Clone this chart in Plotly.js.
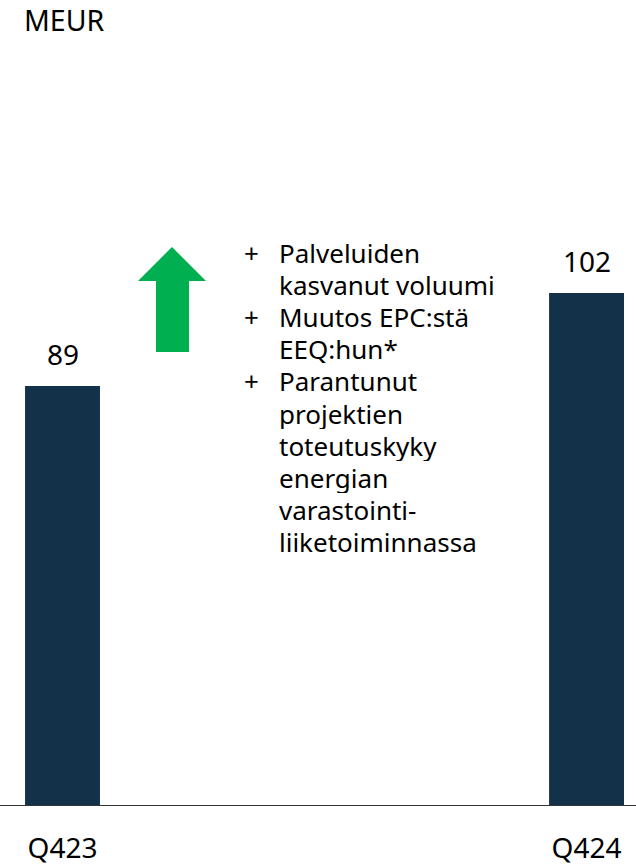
<!DOCTYPE html>
<html>
<head>
<meta charset="utf-8">
<script src="https://cdn.plot.ly/plotly-3.0.1.min.js"></script>
<style>
html,body{margin:0;padding:0;background:#fff;}
#chart{width:636px;height:865px;}
</style>
</head>
<body>
<div id="chart"></div>
<script>
// ---- data ----
const categories = ["Q423", "Q424"];
const values = [89, 102];
const unitLabel = "MEUR";
const bulletItems = [
  ["Palveluiden", "kasvanut voluumi"],
  ["Muutos EPC:stä", "EEQ:hun*"],
  ["Parantunut", "projektien", "toteutuskyky", "energian", "varastointi-", "liiketoiminnassa"]
];
const bulletMark = "+";

// ---- layout helpers ----
const W = 636, H = 865, MT = 0, MB = 60;
const PH = H - MT - MB;
const px = x => x / W;
const py = y => (PH - (y - MT)) / PH;
const FONT = "Noto Sans, Open Sans, sans-serif";
const barColor = "#133249";
const green = "#00B050";

const trace = {
  type: "bar",
  x: categories,
  y: values,
  width: 0.143,
  marker: {color: barColor, line: {width: 0}},
  hoverinfo: "skip"
};

const annotations = [];
// value labels above bars
categories.forEach((c, i) => {
  annotations.push({
    x: c, y: values[i], xref: "x", yref: "y",
    text: String(values[i]), showarrow: false,
    yanchor: "bottom", yshift: 11,
    font: {family: FONT, size: 28, color: "#000"}
  });
});
// unit label
annotations.push({
  xref: "paper", yref: "paper", x: px(22), y: py(20),
  xanchor: "left", yanchor: "middle",
  text: unitLabel, showarrow: false,
  font: {family: FONT, size: 28.5, color: "#000"}
});
// bullet text, one annotation per line
let lineIdx = 0;
const firstLineY = 253, lineStep = 32.1;
bulletItems.forEach(item => {
  item.forEach((line, j) => {
    const yy = firstLineY + lineIdx * lineStep;
    if (j === 0) {
      annotations.push({
        xref: "paper", yref: "paper", x: px(243), y: py(yy),
        xanchor: "left", yanchor: "middle",
        text: bulletMark, showarrow: false, height: 30, borderpad: 0,
        font: {family: FONT, size: 26, color: "#000"}
      });
    }
    annotations.push({
      xref: "paper", yref: "paper", x: px(278), y: py(yy),
      xanchor: "left", yanchor: "middle",
      text: line, showarrow: false, height: 30, borderpad: 0,
      font: {family: FONT, size: 26, color: "#000"}
    });
    lineIdx++;
  });
});

// up arrow shape (decoration)
const pts = [[172,247],[206,281],[189,281],[189,352],[156,352],[156,281],[138,281]];
const path = pts.map((p, i) => (i ? "L" : "M") + px(p[0]).toFixed(5) + "," + py(p[1]).toFixed(5)).join(" ") + " Z";

const layout = {
  width: W, height: H,
  margin: {l: 0, r: 0, t: MT, b: MB, pad: 0},
  paper_bgcolor: "#fff", plot_bgcolor: "#fff",
  showlegend: false,
  font: {family: FONT, color: "#000"},
  xaxis: {
    type: "category",
    range: [-0.1193, 1.0944],
    showline: true, linecolor: "#333", linewidth: 1.3,
    showgrid: false, zeroline: false,
    ticks: "outside", ticklen: 18, tickcolor: "rgba(0,0,0,0)",
    tickfont: {family: FONT, size: 28, color: "#000"},
    automargin: false, fixedrange: true
  },
  yaxis: {
    visible: false,
    range: [30.43, 142.95],
    showgrid: false, zeroline: false, automargin: false, fixedrange: true
  },
  shapes: [{
    type: "path", xref: "paper", yref: "paper", path: path,
    fillcolor: green, line: {width: 0}
  }],
  annotations: annotations
};

Plotly.newPlot("chart", [trace], layout, {staticPlot: true, displayModeBar: false});
</script>
</body>
</html>
